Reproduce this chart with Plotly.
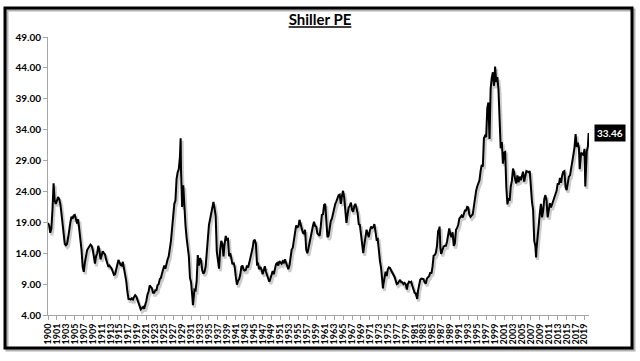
import plotly.graph_objects as go

# Shiller PE, quarterly readings (Jan, Apr, Jul, Oct)
cape_1900s = [18.9, 18.5, 17.3, 18.0, 21.0, 25.3, 22.5, 22.0, 22.5, 23.1, 22.8, 22.0,
              20.5, 19.0, 16.5, 15.5, 15.3, 15.5, 16.5, 18.0, 19.0, 19.9, 19.6, 20.1,
              20.2, 19.5, 18.8, 19.5, 18.0, 15.5, 14.5, 11.8, 11.0, 12.5, 13.5, 14.5,
              14.8, 15.2, 15.4, 15.2]
cape_1910s = [14.6, 13.5, 12.3, 13.5, 14.0, 15.2, 14.5, 13.0, 13.5, 14.3, 14.0, 13.8,
              13.0, 12.3, 11.8, 12.0, 11.8, 11.5, 11.0, 10.5, 10.6, 11.5, 12.0, 12.9,
              12.5, 12.1, 12.0, 12.6, 11.5, 10.5, 9.5, 7.8, 6.6, 6.6, 6.5, 6.7,
              6.5, 6.9, 7.2, 7.0]
cape_1920s = [6.4, 5.9, 5.3, 4.9, 5.1, 5.3, 5.0, 5.5, 6.3, 7.3, 7.8, 8.8,
              8.5, 8.3, 7.6, 7.6, 8.0, 8.0, 8.8, 9.0, 9.8, 10.0, 10.7, 11.3,
              12.0, 11.5, 12.5, 13.0, 13.5, 14.5, 16.0, 18.0, 20.0, 22.0, 22.5, 26.0,
              27.1, 27.6, 29.5, 27.5]
cape_1930s = [21.5, 25.0, 21.0, 18.5, 16.5, 15.0, 13.5, 10.0, 9.3, 7.2, 6.2, 8.1,
              8.0, 9.5, 13.7, 12.0, 13.2, 12.8, 11.2, 10.7, 11.0, 11.8, 14.5, 16.5,
              18.6, 19.5, 20.5, 21.8, 22.3, 21.3, 20.0, 14.3, 13.0, 11.5, 14.5, 16.0,
              15.5, 13.5, 15.5, 16.8]
cape_1940s = [16.2, 16.3, 13.5, 14.0, 13.2, 12.2, 12.5, 11.8, 10.2, 8.9, 9.5, 9.8,
              10.5, 11.8, 12.0, 11.3, 11.2, 11.3, 12.0, 11.7, 12.4, 13.2, 13.6, 14.8,
              16.0, 16.2, 15.5, 12.2, 12.3, 11.4, 11.8, 11.4, 10.6, 11.2, 11.9, 11.0,
              10.4, 10.0, 9.4, 9.9]
cape_1950s = [10.6, 11.1, 10.6, 11.8, 12.2, 12.4, 12.0, 12.7, 12.5, 12.3, 12.7, 12.5,
              13.0, 12.4, 11.8, 11.4, 12.0, 13.3, 14.6, 14.9, 16.2, 17.0, 18.5, 18.2,
              18.3, 19.4, 18.6, 18.0, 17.3, 17.2, 17.8, 14.6, 14.0, 14.8, 15.8, 17.0,
              18.0, 18.4, 19.1, 18.4]
cape_1960s = [18.3, 17.2, 17.0, 16.8, 18.3, 20.2, 20.3, 21.8, 22.0, 19.8, 16.6, 16.8,
              18.6, 19.2, 19.6, 20.6, 21.6, 22.0, 22.4, 22.8, 23.4, 23.5, 22.0, 23.3,
              24.1, 23.0, 20.8, 18.9, 20.3, 21.4, 21.7, 22.2, 21.0, 20.7, 21.6, 22.0,
              21.3, 20.5, 18.7, 18.6]
cape_1970s = [17.1, 15.5, 14.0, 15.4, 16.8, 17.8, 17.2, 16.6, 17.7, 18.3, 18.1, 18.2,
              18.7, 17.1, 16.2, 16.3, 13.6, 12.7, 11.6, 8.8, 8.9, 10.4, 11.0, 10.3,
              11.4, 11.7, 11.6, 11.2, 10.9, 10.4, 10.2, 9.6, 9.0, 9.1, 9.5, 9.7,
              9.3, 9.3, 9.0, 9.2]
cape_1980s = [9.0, 8.1, 9.0, 9.4, 9.3, 9.4, 8.7, 8.0, 7.6, 7.5, 6.9, 7.9,
              8.9, 9.7, 9.9, 9.8, 9.8, 9.3, 9.1, 9.9, 10.1, 10.3, 10.9, 10.7,
              11.8, 13.6, 13.7, 14.1, 15.2, 17.6, 17.9, 15.0, 14.0, 14.6, 15.1, 15.2,
              15.2, 15.9, 17.1, 18.0]
cape_1990s = [17.0, 16.6, 17.4, 15.2, 15.6, 17.8, 18.1, 18.6, 19.6, 19.9, 20.1, 19.8,
              20.6, 20.9, 20.9, 21.5, 21.4, 20.2, 19.9, 20.2, 20.3, 21.6, 23.4, 24.1,
              24.8, 25.5, 25.8, 27.3, 28.3, 28.0, 32.6, 33.0, 32.8, 37.5, 38.4, 32.5,
              40.6, 42.4, 43.3, 41.1]
cape_2000s = [44.2, 41.7, 42.5, 40.5, 36.9, 31.0, 32.0, 28.5, 30.3, 30.4, 24.8, 21.9,
              22.9, 22.5, 24.8, 25.7, 27.7, 27.1, 25.9, 25.3, 26.6, 25.5, 26.4, 25.8,
              26.5, 27.2, 25.6, 26.8, 27.3, 27.2, 27.1, 27.3, 24.0, 22.3, 21.0, 16.0,
              15.2, 14.6, 16.6, 19.7]
cape_2010s = [20.5, 22.0, 19.8, 20.9, 22.8, 23.4, 22.6, 19.8, 21.2, 22.1, 21.4, 22.0,
              22.4, 23.1, 23.5, 24.1, 25.3, 25.1, 26.2, 25.4, 26.6, 27.2, 27.3, 24.7,
              24.2, 25.8, 26.4, 26.6, 28.1, 28.8, 29.9, 31.1, 33.3, 31.2, 31.9, 31.0,
              28.4, 30.3, 30.0, 29.9]
cape_2020 = [30.9, 26.3, 30.5, 31.3]

# individual monthly turning points
turn_dates = ["1929-09", "1932-06", "1974-12", "1982-08", "1987-08", "1987-12",
              "1999-12", "2009-03", "2018-12", "2020-03", "2020-12"]
turn_vals = [32.6, 5.6, 8.3, 6.6, 18.3, 13.9, 43.8, 13.3, 27.6, 24.8, 33.46]

tick_labels = ["1900"] + [str(y) for y in range(1901, 2020, 2)]
y_ticks = [4, 9, 14, 19, 24, 29, 34, 39, 44, 49]

quarterly = (cape_1900s + cape_1910s + cape_1920s + cape_1930s + cape_1940s + cape_1950s +
             cape_1960s + cape_1970s + cape_1980s + cape_1990s + cape_2000s + cape_2010s + cape_2020)

def ym(s):
    y, m = s.split("-")
    return int(y) + (int(m) - 1) / 12

pts = [(1900 + i * 0.25, v) for i, v in enumerate(quarterly)]
pts += [(ym(d), v) for d, v in zip(turn_dates, turn_vals)]
pts.sort()
xs = [p[0] for p in pts]
ys = [p[1] for p in pts]

W, H = 640, 361
L, R, T, B = 48, 51, 37, 46
x_range = [1900, 2021]
y_range = [4, 49]
pw, ph = W - L - R, H - T - B
x_per_px = (x_range[1] - x_range[0]) / pw
y_per_px = (y_range[1] - y_range[0]) / ph

def px(xp):
    return (xp - L) / pw

def py(yp):
    return (H - B - yp) / ph

font = "Lato"
fig = go.Figure()
# soft shadow of the line
fig.add_trace(go.Scatter(x=[x + 1.5 * x_per_px for x in xs], y=[y - 2.5 * y_per_px for y in ys],
                         mode="lines", line=dict(color="rgba(0,0,0,0.2)", width=3),
                         hoverinfo="skip", showlegend=False))
fig.add_trace(go.Scatter(x=xs, y=ys, mode="lines", line=dict(color="black", width=2),
                         showlegend=False, name="Shiller PE"))

fig.add_annotation(x=xs[-1], y=ys[-1], text="<b>%.2f</b>" % ys[-1], showarrow=False,
                   xanchor="left", yanchor="middle", xshift=5, bgcolor="black",
                   font=dict(color="white", size=10, family=font), borderpad=2)

# outer frame with shadow
fig.add_shape(type="rect", xref="paper", yref="paper", x0=px(7), x1=px(634), y0=py(350), y1=py(10),
              line=dict(color="rgba(0,0,0,0.3)", width=3), layer="below")
fig.add_shape(type="rect", xref="paper", yref="paper", x0=px(5), x1=px(632), y0=py(348), y1=py(8),
              line=dict(color="black", width=3), fillcolor="rgba(0,0,0,0)")

fig.update_layout(
    width=W, height=H, margin=dict(l=L, r=R, t=T, b=B),
    paper_bgcolor="white", plot_bgcolor="white",
    title=dict(text="<b><u>Shiller PE</u></b>", x=0.5, xref="container", xanchor="center",
               y=1 - 20 / H, yref="container", yanchor="middle",
               font=dict(family=font, size=15, color="black")),
    xaxis=dict(range=x_range, tickvals=[1900 + 2 * i for i in range(len(tick_labels))],
               ticktext=tick_labels, tickangle=-90, ticks="outside", ticklen=4,
               tickcolor="#a6a6a6", showline=True, linecolor="#a6a6a6", linewidth=1,
               showgrid=False, zeroline=False,
               tickfont=dict(family=font, size=9, color="black", weight="bold")),
    yaxis=dict(range=y_range, tickvals=y_ticks, tickformat=".2f", ticks="outside", ticklen=4,
               tickcolor="#a6a6a6", showline=True, linecolor="#a6a6a6", linewidth=1,
               showgrid=False, zeroline=False,
               tickfont=dict(family=font, size=10, color="black", weight="bold")),
)

fig.write_html("out.html", config={"displayModeBar": False},
               post_script="document.body.style.margin='0';document.body.style.overflow='hidden';")
